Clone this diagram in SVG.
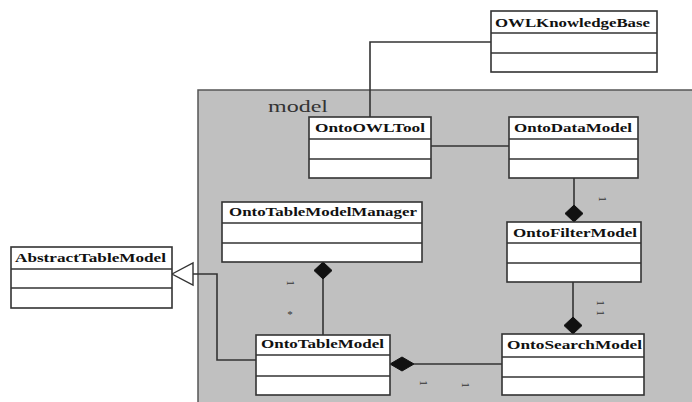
<svg xmlns="http://www.w3.org/2000/svg" width="692" height="402" viewBox="0 0 692 402">
  <style>
    .pkg { fill: #c0c0c0; stroke: #555; stroke-width: 1.5; }
    .box { fill: #fff; stroke: #333; stroke-width: 1.6; }
    .div { stroke: #333; stroke-width: 1.4; }
    .name { font-family: "Liberation Serif", "Times New Roman", serif; font-weight: bold; font-size: 12px; fill: #111; }
    .pkgname { font-family: "Liberation Serif", "Times New Roman", serif; font-size: 17px; fill: #333; }
    .line { fill: none; stroke: #333; stroke-width: 1.6; }
    .diamond { fill: #111; stroke: #111; stroke-width: 1; }
    .hollow { fill: #fff; stroke: #333; stroke-width: 1.4; }
    .mult { font-family: "Liberation Serif", "Times New Roman", serif; font-size: 11px; fill: #333; }
  </style>

  <!-- package "model" -->
  <g id="package-model">
    <rect class="pkg" x="198" y="90" width="500" height="320"/>
    <text class="pkgname" x="268" y="112" textLength="60" lengthAdjust="spacingAndGlyphs">model</text>
  </g>

  <!-- connectors -->
  <g id="connectors">
    <!-- OntoOWLTool to OWLKnowledgeBase -->
    <polyline class="line" points="370,117 370,42 491,42"/>
    <!-- OntoOWLTool to OntoDataModel -->
    <line class="line" x1="431" y1="146" x2="509" y2="146"/>
    <!-- OntoDataModel composition of OntoFilterModel -->
    <line class="line" x1="574" y1="178" x2="574" y2="205"/>
    <polygon class="diamond" points="574,205 583,213.5 574,222 565,213.5"/>
    <text class="mult" transform="translate(599,199) rotate(90)" text-anchor="middle">1</text>
    <!-- OntoFilterModel to OntoSearchModel -->
    <line class="line" x1="573" y1="282" x2="573" y2="317"/>
    <polygon class="diamond" points="573,317 582,325.5 573,334 564,325.5"/>
    <text class="mult" transform="translate(597,303) rotate(90)" text-anchor="middle">1</text>
    <text class="mult" transform="translate(597,313) rotate(90)" text-anchor="middle">1</text>
    <!-- OntoTableModelManager composition of OntoTableModel -->
    <line class="line" x1="323" y1="279" x2="323" y2="335"/>
    <polygon class="diamond" points="323,262 332,270.5 323,279 314,270.5"/>
    <text class="mult" transform="translate(287,283) rotate(90)" text-anchor="middle">1</text>
    <text class="mult" x="290" y="318" text-anchor="middle">*</text>
    <!-- OntoTableModel to OntoSearchModel -->
    <line class="line" x1="414" y1="364" x2="502" y2="364"/>
    <polygon class="diamond" points="390,364 402,357 414,364 402,371"/>
    <text class="mult" transform="translate(420,383) rotate(90)" text-anchor="middle">1</text>
    <text class="mult" transform="translate(462,385) rotate(90)" text-anchor="middle">1</text>
    <!-- OntoTableModel generalizes AbstractTableModel -->
    <polyline class="line" points="256,360 217,360 217,274 193,274"/>
    <polygon class="hollow" points="172,274 193,263 193,285"/>
  </g>

  <g id="OWLKnowledgeBase">
    <rect class="box" x="491" y="11" width="166" height="61"/>
    <line class="div" x1="491" y1="33" x2="657" y2="33"/>
    <line class="div" x1="491" y1="53" x2="657" y2="53"/>
    <text class="name" x="495" y="27" textLength="155" lengthAdjust="spacingAndGlyphs">OWLKnowledgeBase</text>
  </g>

  <g id="OntoOWLTool">
    <rect class="box" x="309" y="117" width="122" height="61"/>
    <line class="div" x1="309" y1="139" x2="431" y2="139"/>
    <line class="div" x1="309" y1="159" x2="431" y2="159"/>
    <text class="name" x="315" y="132" textLength="110" lengthAdjust="spacingAndGlyphs">OntoOWLTool</text>
  </g>

  <g id="OntoDataModel">
    <rect class="box" x="509" y="117" width="129" height="61"/>
    <line class="div" x1="509" y1="139" x2="638" y2="139"/>
    <line class="div" x1="509" y1="159" x2="638" y2="159"/>
    <text class="name" x="514" y="132" textLength="118" lengthAdjust="spacingAndGlyphs">OntoDataModel</text>
  </g>

  <g id="OntoFilterModel">
    <rect class="box" x="507" y="222" width="134" height="60"/>
    <line class="div" x1="507" y1="243" x2="641" y2="243"/>
    <line class="div" x1="507" y1="263" x2="641" y2="263"/>
    <text class="name" x="513" y="237" textLength="124" lengthAdjust="spacingAndGlyphs">OntoFilterModel</text>
  </g>

  <g id="OntoSearchModel">
    <rect class="box" x="502" y="334" width="142" height="61"/>
    <line class="div" x1="502" y1="357" x2="644" y2="357"/>
    <line class="div" x1="502" y1="377" x2="644" y2="377"/>
    <text class="name" x="507" y="349" textLength="135" lengthAdjust="spacingAndGlyphs">OntoSearchModel</text>
  </g>

  <g id="OntoTableModelManager">
    <rect class="box" x="222" y="202" width="200" height="60"/>
    <line class="div" x1="222" y1="223" x2="422" y2="223"/>
    <line class="div" x1="222" y1="243" x2="422" y2="243"/>
    <text class="name" x="229" y="216" textLength="188" lengthAdjust="spacingAndGlyphs">OntoTableModelManager</text>
  </g>

  <g id="OntoTableModel">
    <rect class="box" x="256" y="335" width="134" height="60"/>
    <line class="div" x1="256" y1="355" x2="390" y2="355"/>
    <line class="div" x1="256" y1="376" x2="390" y2="376"/>
    <text class="name" x="261" y="348" textLength="123" lengthAdjust="spacingAndGlyphs">OntoTableModel</text>
  </g>

  <g id="AbstractTableModel">
    <rect class="box" x="11" y="247" width="161" height="61"/>
    <line class="div" x1="11" y1="269" x2="172" y2="269"/>
    <line class="div" x1="11" y1="288" x2="172" y2="288"/>
    <text class="name" x="15" y="262" textLength="151" lengthAdjust="spacingAndGlyphs">AbstractTableModel</text>
  </g>
</svg>
